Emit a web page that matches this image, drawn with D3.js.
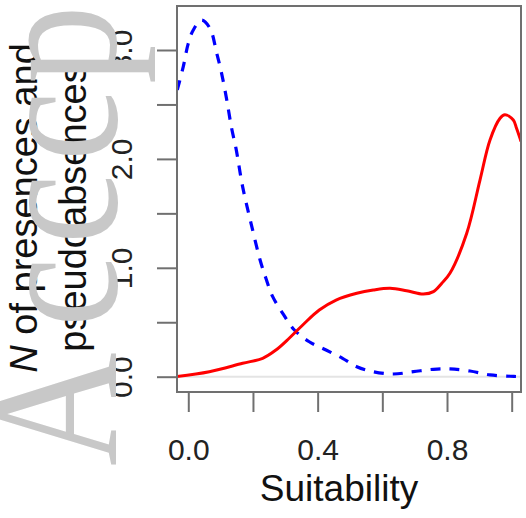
<!DOCTYPE html>
<html>
<head>
<meta charset="utf-8">
<script src="https://cdn.jsdelivr.net/npm/d3@7"></script>
<style>
html,body{margin:0;padding:0;background:#fff;}
svg{display:block;}
</style>
</head>
<body>
<svg id="chart" width="526" height="518"></svg>
<script>
// ---- data ----
const presX = [-0.038, 0.065, 0.168, 0.230, 0.271, 0.312, 0.354, 0.405, 0.457, 0.521, 0.572, 0.624, 0.675, 0.727, 0.758, 0.784, 0.809, 0.861, 0.902, 0.933, 0.964, 0.979, 1.005, 1.015, 1.029];
const presY = [0.0, 0.046, 0.123, 0.169, 0.245, 0.353, 0.475, 0.612, 0.704, 0.766, 0.796, 0.812, 0.790, 0.759, 0.781, 0.858, 0.949, 1.317, 1.806, 2.174, 2.373, 2.405, 2.357, 2.281, 2.16];
const absX = [-0.034, -0.0155, 0.0, 0.0155, 0.0414, 0.067, 0.088, 0.103, 0.119, 0.134, 0.1475, 0.168, 0.194, 0.222, 0.240, 0.261, 0.292, 0.328, 0.374, 0.426, 0.477, 0.521, 0.572, 0.634, 0.696, 0.758, 0.809, 0.871, 0.933, 0.995, 1.029];
const absY = [2.633, 2.847, 3.061, 3.184, 3.275, 3.199, 2.970, 2.786, 2.541, 2.281, 2.097, 1.745, 1.409, 1.072, 0.904, 0.735, 0.582, 0.429, 0.321, 0.245, 0.169, 0.092, 0.046, 0.025, 0.046, 0.068, 0.071, 0.052, 0.016, 0.004, 0.0];
const xTicks = [0.0, 0.2, 0.4, 0.6, 0.8, 1.0];
const xTickLabels = ["0.0", "", "0.4", "", "0.8", ""];
const yTicks = [0.0, 0.5, 1.0, 1.5, 2.0, 2.5, 3.0];
const yTickLabels = ["0.0", "", "1.0", "", "2.0", "", "3.0"];
const xTitle = "Suitability";
const yTitle1 = "of presences and";
const yTitle2 = "pseudoabsences";
const watermarkGlyphs = ["A", "c", "c", "c", "p"];
const watermarkOrigins = [466, 327, 244, 161, 84];

// ---- layout ----
const box = {left: 177, right: 521, top: 6, bottom: 392};
const x = d3.scaleLinear().domain([-0.0349, 1.0288]).range([box.left, box.right]);
const y = d3.scaleLinear().domain([-0.1405, 3.404]).range([box.bottom, box.top]);

const svg = d3.select("#chart");
const font = "Liberation Sans, Arial, sans-serif";

svg.append("defs").append("clipPath").attr("id", "plotclip")
  .append("rect").attr("x", box.left).attr("y", box.top)
  .attr("width", box.right - box.left).attr("height", box.bottom - box.top);

// zero line
svg.append("line")
  .attr("x1", box.left).attr("x2", box.right)
  .attr("y1", y(0)).attr("y2", y(0))
  .attr("stroke", "#e4e4e4").attr("stroke-width", 2);

const g = svg.append("g").attr("clip-path", "url(#plotclip)");
const line = d3.line().x(d => x(d[0])).y(d => y(d[1])).curve(d3.curveCatmullRom.alpha(0.5));

g.append("path")
  .datum(absX.map((v, i) => [v, absY[i]]))
  .attr("d", line).attr("fill", "none")
  .attr("stroke", "#0000ff").attr("stroke-width", 3.2)
  .attr("stroke-dasharray", "10,9");

g.append("path")
  .datum(presX.map((v, i) => [v, presY[i]]))
  .attr("d", line).attr("fill", "none")
  .attr("stroke", "#ff0000").attr("stroke-width", 3);

// box
svg.append("rect")
  .attr("x", box.left).attr("y", box.top)
  .attr("width", box.right - box.left).attr("height", box.bottom - box.top)
  .attr("fill", "none").attr("stroke", "#707070").attr("stroke-width", 2);

// x axis
const xAxis = d3.axisBottom(x).tickValues(xTicks).tickSize(20)
  .tickFormat((d, i) => xTickLabels[i]).tickPadding(27);
const xg = svg.append("g").attr("transform", `translate(0,${box.bottom})`).call(xAxis);
xg.select(".domain").remove();
xg.selectAll(".tick line").attr("stroke", "#707070").attr("stroke-width", 2);
xg.selectAll(".tick text").attr("font-family", font).attr("font-size", 30).attr("fill", "#222");

// y axis
const yAxis = d3.axisLeft(y).tickValues(yTicks).tickSize(20)
  .tickFormat((d, i) => yTickLabels[i]).tickPadding(0);
const yg = svg.append("g").attr("transform", `translate(${box.left},0)`).call(yAxis);
yg.select(".domain").remove();
yg.selectAll(".tick line").attr("stroke", "#707070").attr("stroke-width", 2);
yg.selectAll(".tick text")
  .attr("font-family", font).attr("font-size", 30).attr("fill", "#222")
  .attr("x", null).attr("dy", null)
  .attr("text-anchor", "middle")
  .attr("transform", "translate(-45,0) rotate(-90)");

// titles
svg.append("text")
  .attr("x", 339).attr("y", 501)
  .attr("text-anchor", "middle")
  .attr("font-family", font).attr("font-size", 37).attr("fill", "#111")
  .text(xTitle);

const t1 = svg.append("text")
  .attr("transform", "translate(37,208) rotate(-90)")
  .attr("text-anchor", "middle")
  .attr("font-family", font).attr("font-size", 38).attr("fill", "#111");
t1.append("tspan").attr("font-style", "italic").text("N");
t1.append("tspan").text(" " + yTitle1);

svg.append("text")
  .attr("transform", "translate(86,208) rotate(-90)")
  .attr("text-anchor", "middle")
  .attr("font-family", font).attr("font-size", 38).attr("fill", "#111")
  .text(yTitle2);

// watermark (drawn over the labels, as in the reference)
svg.append("g").selectAll("text")
  .data(watermarkGlyphs)
  .join("text")
  .attr("transform", (d, i) => `translate(116,${watermarkOrigins[i]}) rotate(-90) scale(0.85,1)`)
  .attr("font-family", "Liberation Serif, Times New Roman, serif")
  .attr("font-size", 185)
  .attr("fill", "#c8c8c8")
  .text(d => d);
</script>
</body>
</html>
